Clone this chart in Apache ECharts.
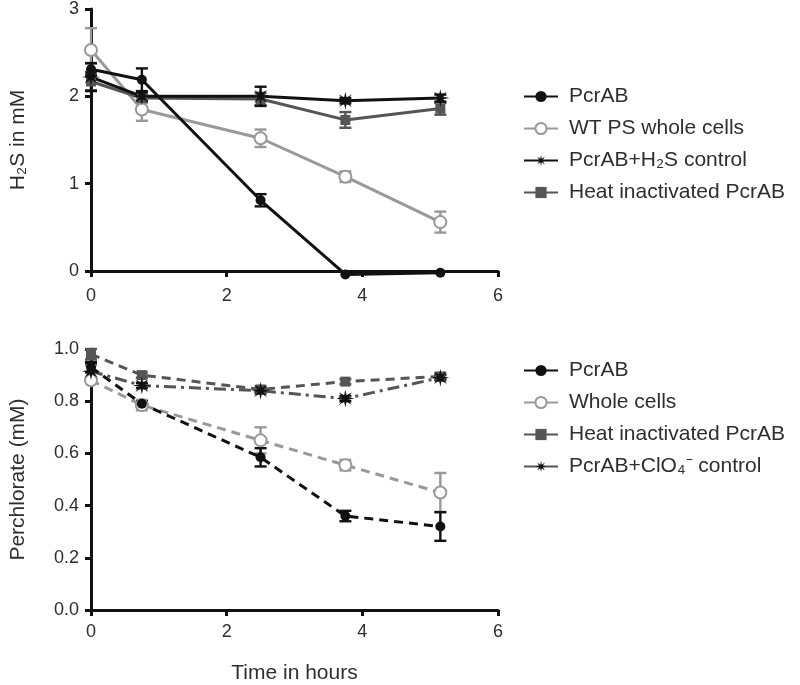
<!DOCTYPE html>
<html><head><meta charset="utf-8">
<script src="https://cdn.jsdelivr.net/npm/echarts@6/dist/echarts.min.js"></script>
<style>html,body{margin:0;padding:0;background:#fff}#c{width:800px;height:685px}</style>
</head><body><div id="c"></div>
<script>
// ---------- data ----------
const hours = [0, 0.75, 2.5, 3.75, 5.15];
const xTickValues = [0, 2, 4, 6];

// Top panel: H2S in mM
const topNames = ['PcrAB', 'WT PS whole cells', 'PcrAB+H₂S control', 'Heat inactivated PcrAB'];
const h2sPcrAB      = [2.31, 2.19, 0.81, -0.04, -0.02];
const h2sPcrABErr   = [0.07, 0.13, 0.07, 0, 0];
const h2sWT         = [2.53, 1.85, 1.52, 1.08, 0.56];
const h2sWTErr      = [0.25, 0.13, 0.10, 0.06, 0.12];
const h2sControl    = [2.22, 2.00, 2.00, 1.95, 1.98];
const h2sControlErr = [0.16, 0.05, 0.11, 0.03, 0.04];
const h2sHeat       = [2.17, 1.98, 1.97, 1.73, 1.86];
const h2sHeatErr    = [0.10, 0.05, 0.07, 0.09, 0.07];

// Bottom panel: Perchlorate (mM)
const botNames = ['PcrAB', 'Whole cells', 'Heat inactivated PcrAB', 'PcrAB+ClO₄⁻ control'];
const clPcrAB      = [0.93, 0.79, 0.585, 0.36, 0.32];
const clPcrABErr   = [0.02, 0.01, 0.035, 0.02, 0.055];
const clWhole      = [0.88, 0.785, 0.65, 0.555, 0.45];
const clWholeErr   = [0.01, 0.02, 0.05, 0.02, 0.075];
const clHeat       = [0.98, 0.90, 0.845, 0.875, 0.895];
const clHeatErr    = [0.02, 0.01, 0.01, 0.01, 0.01];
const clControl    = [0.915, 0.86, 0.84, 0.81, 0.89];
const clControlErr = [0.03, 0.01, 0.01, 0.01, 0.01];

// ---------- helpers ----------
function starPath() {
  const pts = [];
  for (let i = 0; i < 16; i++) {
    const a = Math.PI * i / 8 - Math.PI / 2;
    const r = i % 2 === 0 ? 10 : 3.6;
    pts.push((10 + r * Math.cos(a)).toFixed(2) + ' ' + (10 + r * Math.sin(a)).toFixed(2));
  }
  return 'path://M' + pts.join(' L') + ' Z';
}
const STAR = starPath();
const pair = (ys) => hours.map((x, i) => [x, ys[i]]);
const trip = (ys, es) => hours.map((x, i) => [x, ys[i], es[i]]);

function errSeries(ys, es, color, idx) {
  return {
    type: 'custom', xAxisIndex: idx, yAxisIndex: idx, z: 1, silent: true,
    data: trip(ys, es), clip: false,
    renderItem: function (params, api) {
      const x = api.value(0), y = api.value(1), e = api.value(2);
      if (!e) return null;
      const p1 = api.coord([x, y + e]), p2 = api.coord([x, y - e]);
      const w = 6;
      const st = { stroke: color, lineWidth: 2.4 };
      return { type: 'group', children: [
        { type: 'line', shape: { x1: p1[0], y1: p1[1], x2: p2[0], y2: p2[1] }, style: st },
        { type: 'line', shape: { x1: p1[0] - w, y1: p1[1], x2: p1[0] + w, y2: p1[1] }, style: st },
        { type: 'line', shape: { x1: p2[0] - w, y1: p2[1], x2: p2[0] + w, y2: p2[1] }, style: st }
      ]};
    }
  };
}
function lineSeries(name, ys, idx, opt) {
  return Object.assign({
    type: 'line', name: name, xAxisIndex: idx, yAxisIndex: idx, z: 3,
    data: pair(ys), clip: false, animation: false
  }, opt);
}

const FONT = 'Liberation Sans, Arial, Helvetica, sans-serif';
const TXT = '#2e2e2e';
const axisCommon = {
  axisLine: { show: true, onZero: false, lineStyle: { color: '#111', width: 3 } },
  axisTick: { show: true, inside: false, length: 6, lineStyle: { color: '#111', width: 3 } },
  splitLine: { show: false },
  axisLabel: { color: TXT, fontSize: 18, fontFamily: FONT }
};
function xAxis(idx, withName) {
  return Object.assign({}, axisCommon, {
    type: 'value', gridIndex: idx, min: 0, max: 6, interval: 2,
    axisLabel: Object.assign({}, axisCommon.axisLabel, { margin: idx === 0 ? 16 : 13 }),
    name: withName ? 'Time in hours' : '', nameLocation: 'middle', nameGap: 53,
    nameTextStyle: { color: TXT, fontSize: 21, fontFamily: FONT }
  });
}

const C_BLACK = '#111', C_LIGHT = '#999', C_DARK = '#555';
const dash = [9, 6];
const legendCommon = {
  orient: 'vertical', itemWidth: 34, itemHeight: 14, itemGap: 11, selectedMode: false,
  lineStyle: { type: 'solid' },
  textStyle: { color: TXT, fontSize: 21, fontFamily: FONT, padding: [0, 0, 0, 6] }
};

const option = {
  backgroundColor: '#fff',
  animation: false,
  grid: [
    { left: 91, width: 407, top: 9, height: 262 },
    { left: 91, width: 407, top: 349, height: 266 }
  ],
  xAxis: [xAxis(0, false), xAxis(1, true)],
  yAxis: [
    Object.assign({}, axisCommon, {
      type: 'value', gridIndex: 0, min: 0, max: 3, interval: 1,
      axisLabel: Object.assign({}, axisCommon.axisLabel, { margin: 12 }),
      name: 'H₂S in mM', nameLocation: 'middle', nameGap: 62,
      nameTextStyle: { color: TXT, fontSize: 21, fontFamily: FONT }
    }),
    Object.assign({}, axisCommon, {
      type: 'value', gridIndex: 1, min: 0, max: 1, interval: 0.2,
      axisLabel: Object.assign({}, axisCommon.axisLabel, { margin: 12, formatter: v => v.toFixed(1) }),
      name: 'Perchlorate (mM)', nameLocation: 'middle', nameGap: 62,
      nameTextStyle: { color: TXT, fontSize: 21, fontFamily: FONT }
    })
  ],
  legend: [
    Object.assign({ data: topNames, left: 518, top: 81 }, legendCommon),
    Object.assign({ data: botNames, left: 518, top: 355 }, legendCommon)
  ],
  series: [
    // error bars (below)
    errSeries(h2sWT, h2sWTErr, C_LIGHT, 0),
    errSeries(h2sHeat, h2sHeatErr, C_DARK, 0),
    errSeries(h2sControl, h2sControlErr, C_BLACK, 0),
    errSeries(h2sPcrAB, h2sPcrABErr, C_BLACK, 0),
    errSeries(clWhole, clWholeErr, C_LIGHT, 1),
    errSeries(clHeat, clHeatErr, C_DARK, 1),
    errSeries(clControl, clControlErr, C_BLACK, 1),
    errSeries(clPcrAB, clPcrABErr, C_BLACK, 1),
    // top panel
    lineSeries(topNames[1], h2sWT, 0, { symbol: 'emptyCircle', symbolSize: 12, itemStyle: { color: C_LIGHT, borderWidth: 2.5 }, lineStyle: { color: C_LIGHT, width: 3 } }),
    lineSeries(topNames[3], h2sHeat, 0, { symbol: 'rect', symbolSize: 10, itemStyle: { color: C_DARK }, lineStyle: { color: C_DARK, width: 3 } }),
    lineSeries(topNames[2], h2sControl, 0, { symbol: STAR, symbolSize: 18, itemStyle: { color: C_BLACK }, lineStyle: { color: C_BLACK, width: 3 } }),
    lineSeries(topNames[0], h2sPcrAB, 0, { symbol: 'circle', symbolSize: 10, itemStyle: { color: C_BLACK }, lineStyle: { color: C_BLACK, width: 3 } }),
    // bottom panel
    lineSeries(botNames[1], clWhole, 1, { symbol: 'emptyCircle', symbolSize: 12, itemStyle: { color: C_LIGHT, borderWidth: 2.5 }, lineStyle: { color: C_LIGHT, width: 3, type: dash } }),
    lineSeries(botNames[2] + ' ', clHeat, 1, { symbol: 'rect', symbolSize: 10, itemStyle: { color: C_DARK }, lineStyle: { color: C_DARK, width: 3, type: dash } }),
    lineSeries(botNames[3], clControl, 1, { symbol: STAR, symbolSize: 18, itemStyle: { color: C_BLACK }, lineStyle: { color: C_DARK, width: 3, type: [12, 5, 3, 5] } }),
    lineSeries(botNames[0] + ' ', clPcrAB, 1, { symbol: 'circle', symbolSize: 10, itemStyle: { color: C_BLACK }, lineStyle: { color: C_BLACK, width: 3, type: dash } })
  ]
};
echarts.init(document.getElementById('c'), null, { renderer: 'canvas' }).setOption(option);
</script>
</body></html>
